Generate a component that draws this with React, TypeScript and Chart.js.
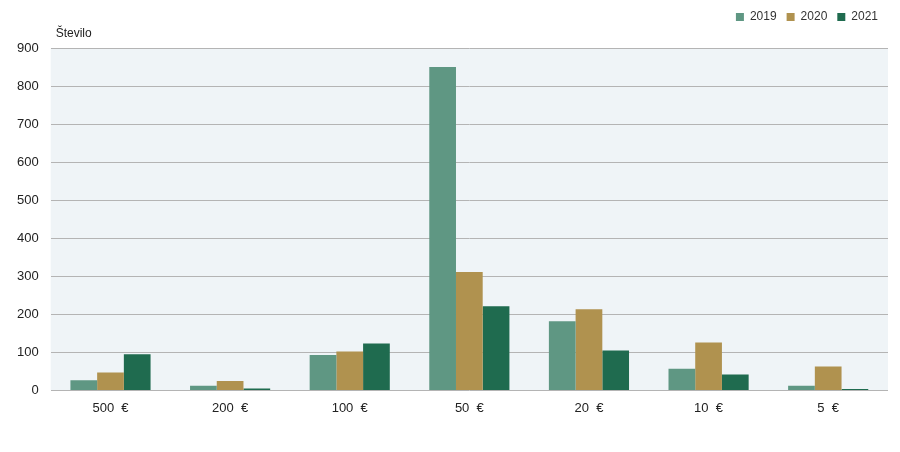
import React, { useEffect, useRef } from "react";
import { Chart, registerables } from "chart.js";

Chart.register(...registerables);

const categories = ["500  €", "200  €", "100  €", "50  €", "20  €", "10  €", "5  €"];
const series2019 = [27, 12, 93, 850, 182, 57, 12];
const series2020 = [47, 25, 102, 311, 213, 126, 63];
const series2021 = [95, 5, 123, 221, 105, 42, 4];
const yTicks = [0, 100, 200, 300, 400, 500, 600, 700, 800, 900];
const yLabel = "Število";

const bgPlugin = {
  id: "bgPlugin",
  beforeDraw(chart: any) {
    const { ctx, chartArea } = chart;
    ctx.save();
    ctx.fillStyle = "#eff4f7";
    ctx.fillRect(chartArea.left, chartArea.top, chartArea.right - chartArea.left, chartArea.bottom - chartArea.top);
    ctx.restore();
  },
  afterDraw(chart: any) {
    const { ctx, chartArea } = chart;
    ctx.save();
    ctx.fillStyle = "#222";
    ctx.font = "12px 'Liberation Sans', Arial, sans-serif";
    ctx.textBaseline = "middle";
    ctx.textAlign = "left";
    ctx.fillText(yLabel, chartArea.left + 5, chartArea.top - 14);
    ctx.restore();
  },
};

const legendSpacer = {
  id: "legendSpacer",
  beforeInit(chart: any) {
    const legend = chart.legend;
    if (!legend) return;
    const orig = legend.fit;
    legend.fit = function () {
      orig.call(this);
      this.height += 15;
    };
  },
};

export default function App() {
  const ref = useRef<HTMLCanvasElement>(null);
  useEffect(() => {
    document.body.style.margin = "0";
    const chart = new Chart(ref.current!, {
      type: "bar",
      data: {
        labels: categories,
        datasets: [
          { label: "2019", data: series2019, backgroundColor: "#5f9783" },
          { label: "2020", data: series2020, backgroundColor: "#b0924f" },
          { label: "2021", data: series2021, backgroundColor: "#1f6b4f" },
        ],
      },
      options: {
        animation: false,
        responsive: false,
        layout: { padding: { left: 5, right: 12, top: 1, bottom: 34 } },
        datasets: { bar: { categoryPercentage: 0.67, barPercentage: 1 } },
        plugins: {
          legend: {
            position: "top",
            align: "end",
            labels: {
              boxWidth: 8,
              boxHeight: 8,
              padding: 10,
              color: "#333",
              font: { size: 12, family: "'Liberation Sans', Arial, sans-serif" },
            },
          },
          tooltip: { enabled: false },
        },
        scales: {
          x: {
            grid: { display: false },
            border: { display: false },
            ticks: {
              color: "#222",
              padding: 2,
              font: { size: 13, family: "'Liberation Sans', Arial, sans-serif" },
            },
          },
          y: {
            min: 0,
            max: 900,
            afterBuildTicks(axis: any) {
              axis.ticks = yTicks.map((v) => ({ value: v }));
            },
            grid: { color: "#b4b4b4", lineWidth: 1, drawTicks: false },
            border: { display: false },
            ticks: {
              color: "#222",
              padding: 12,
              font: { size: 13, family: "'Liberation Sans', Arial, sans-serif" },
            },
          },
        },
      },
      plugins: [bgPlugin, legendSpacer],
    } as any);
    return () => chart.destroy();
  }, []);
  return (
    <div style={{ width: 900, height: 452 }}>
      <canvas ref={ref} width={900} height={452} />
    </div>
  );
}
